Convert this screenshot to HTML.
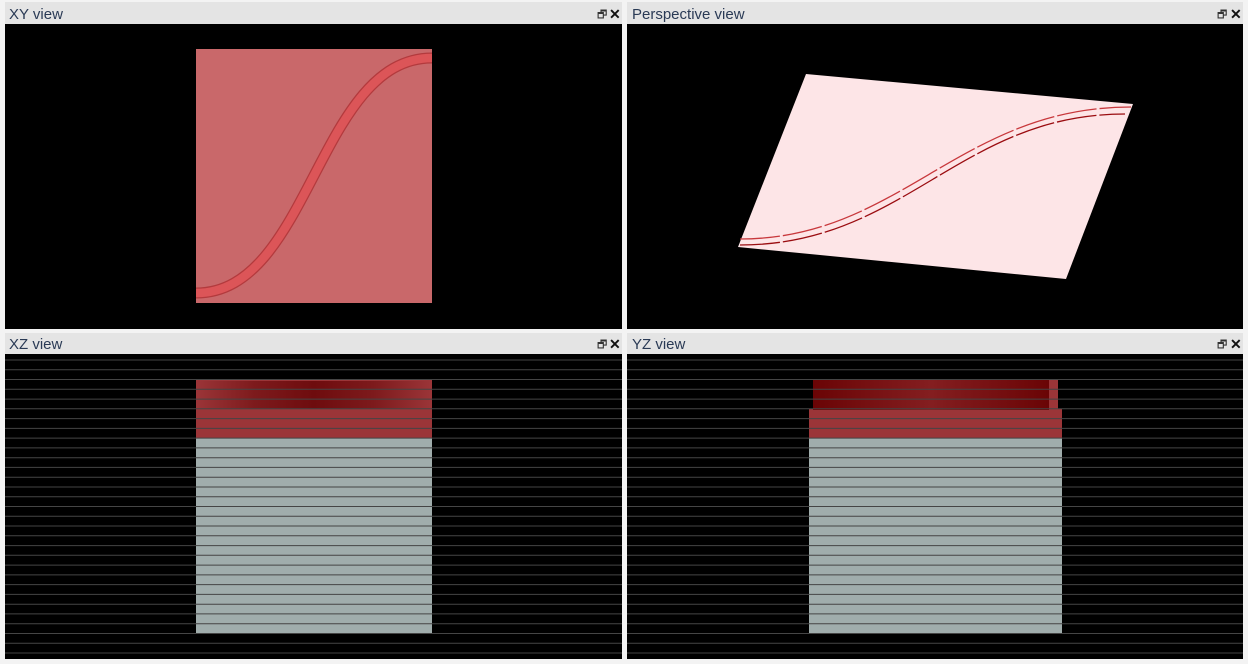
<!DOCTYPE html>
<html><head><meta charset="utf-8"><style>
html,body{margin:0;padding:0;background:#f3f3f3;}
svg{display:block;font-family:"Liberation Sans",sans-serif;}
</style></head><body>
<svg width="1248" height="664" viewBox="0 0 1248 664" xmlns="http://www.w3.org/2000/svg">
<defs>
 <linearGradient id="xzg" x1="0" x2="1" y1="0" y2="0">
  <stop offset="0" stop-color="#9b3538"/><stop offset="0.25" stop-color="#7d1a1c"/><stop offset="0.5" stop-color="#6e0c0e"/><stop offset="0.75" stop-color="#7d1a1c"/><stop offset="1" stop-color="#9b3538"/>
 </linearGradient>
 <linearGradient id="yzg" x1="0" x2="1" y1="0" y2="0">
  <stop offset="0" stop-color="#6a0405"/><stop offset="0.5" stop-color="#841e20"/><stop offset="1" stop-color="#6a0405"/>
 </linearGradient>
</defs>
<rect width="1248" height="664" fill="#f3f3f3"/>
<g>
 <rect x="5" y="2" width="617" height="22" fill="#e4e4e4"/>
 <text x="9" y="19" font-size="15" fill="#2a3a55">XY view</text>
 <text x="597" y="18" font-size="11" fill="#333">🗗</text>
 <text x="609" y="19" font-size="14" font-weight="bold" fill="#111">✕</text>
</g>
<g>
 <rect x="627" y="2" width="616" height="22" fill="#e4e4e4"/>
 <text x="632" y="19" font-size="15" fill="#2a3a55">Perspective view</text>
 <text x="1217" y="18" font-size="11" fill="#333">🗗</text>
 <text x="1230" y="19" font-size="14" font-weight="bold" fill="#111">✕</text>
</g>
<g>
 <rect x="5" y="333" width="617" height="22" fill="#e4e4e4"/>
 <text x="9" y="349" font-size="15" fill="#2a3a55">XZ view</text>
 <text x="597" y="348" font-size="11" fill="#333">🗗</text>
 <text x="609" y="349" font-size="14" font-weight="bold" fill="#111">✕</text>
</g>
<g>
 <rect x="627" y="333" width="616" height="22" fill="#e4e4e4"/>
 <text x="632" y="349" font-size="15" fill="#2a3a55">YZ view</text>
 <text x="1217" y="348" font-size="11" fill="#333">🗗</text>
 <text x="1230" y="349" font-size="14" font-weight="bold" fill="#111">✕</text>
</g>
<g>
 <rect x="5" y="24" width="617" height="305" fill="#000"/>
 <rect x="196" y="49" width="236" height="254" fill="#c9686a"/>
 <path d="M196,293 C310,293 318,58 432,58" fill="none" stroke="#b33a3d" stroke-width="11"/>
 <path d="M196,293 C310,293 318,58 432,58" fill="none" stroke="#dc5558" stroke-width="8.5"/>
</g>
<g>
 <rect x="627" y="24" width="616" height="305" fill="#000"/>
 <polygon points="806,74 1133,104 1066,279 738,247" fill="#fde5e7"/>
 <path d="M740,239 C900,239 960,107 1131,107" fill="none" stroke="#c8383c" stroke-width="1.3" stroke-dasharray="40,3"/>
 <path d="M740,245 C905,245 960,114 1125,114" fill="none" stroke="#9a0c10" stroke-width="1.3" stroke-dasharray="40,3"/>
</g>
<g>
 <rect x="5" y="354" width="617" height="305" fill="#000"/>
 <rect x="196" y="380" width="236" height="58" fill="#9b3538"/>
 <rect x="196" y="381" width="236" height="28" fill="url(#xzg)"/>
 <rect x="196" y="438" width="236" height="195" fill="#a0adac"/>
 <g id="xzlines"></g>
</g>
<g>
 <rect x="627" y="354" width="616" height="305" fill="#000"/>
 <rect x="809" y="409" width="253" height="29" fill="#9b3538"/>
 <rect x="813" y="380" width="245" height="30" fill="#9b3538"/>
 <rect x="813" y="380" width="236" height="30" fill="url(#yzg)"/>
 <rect x="809" y="438" width="253" height="195" fill="#a0adac"/>
 <g id="yzlines"></g>
</g>
</svg>
<script>
const layerCount = [31];
const ns='http://www.w3.org/2000/svg';
function addLines(id,x1,x2){
 const g=document.getElementById(id);
 for(let i=0;i<layerCount[0];i++){
  const y=360+i*(293/30);
  const l=document.createElementNS(ns,'line');
  l.setAttribute('x1',x1);l.setAttribute('x2',x2);
  l.setAttribute('y1',y.toFixed(1));l.setAttribute('y2',y.toFixed(1));
  l.setAttribute('stroke','#454545');l.setAttribute('stroke-width','1');
  
  
  g.appendChild(l);
 }
}
addLines('xzlines',5,622);
addLines('yzlines',627,1243);
</script>
</body></html>
